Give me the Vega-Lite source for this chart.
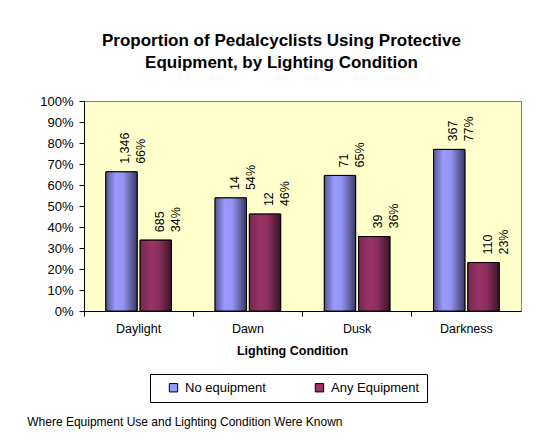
{
  "$schema": "https://vega.github.io/schema/vega-lite/v6.json",
  "background": "white",
  "padding": {"left": 27, "top": 31, "right": 5, "bottom": 5},
  "title": {
    "text": "Where Equipment Use and Lighting Condition Were Known",
    "orient": "bottom",
    "anchor": "start",
    "fontSize": 12,
    "fontWeight": "normal",
    "font": "Liberation Sans",
    "color": "#000000",
    "offset": 14,
    "dx": -12
  },
  "vconcat": [
    {
      "width": 437,
      "height": 210,
      "title": {
        "text": ["Proportion of Pedalcyclists Using Protective", "Equipment, by Lighting Condition"],
        "fontSize": 17,
        "fontWeight": "bold",
        "font": "Liberation Sans",
        "color": "#000000",
        "lineHeight": 22,
        "offset": 23,
        "dx": -21,
        "anchor": "middle"
      },
      "data": {
        "values": [
          {"condition": "Daylight", "series": "No equipment", "share": 0.6627, "label": "1,346\n66%"},
          {"condition": "Daylight", "series": "Any Equipment", "share": 0.3373, "label": "685\n34%"},
          {"condition": "Dawn", "series": "No equipment", "share": 0.5385, "label": "14\n54%"},
          {"condition": "Dawn", "series": "Any Equipment", "share": 0.4615, "label": "12\n46%"},
          {"condition": "Dusk", "series": "No equipment", "share": 0.6455, "label": "71\n65%"},
          {"condition": "Dusk", "series": "Any Equipment", "share": 0.3545, "label": "39\n36%"},
          {"condition": "Darkness", "series": "No equipment", "share": 0.7694, "label": "367\n77%"},
          {"condition": "Darkness", "series": "Any Equipment", "share": 0.2306, "label": "110\n23%"}
        ]
      },
      "encoding": {
        "x": {
          "field": "condition",
          "type": "nominal",
          "sort": ["Daylight", "Dawn", "Dusk", "Darkness"],
          "scale": {"paddingInner": 0.4, "paddingOuter": 0.2},
          "axis": {
            "title": "Lighting Condition",
            "titleFontSize": 12.5,
            "titleFontWeight": "bold",
            "titlePadding": 10,
            "titleX": 208,
            "labelAngle": 0,
            "labelFontSize": 12.5,
            "labelPadding": 6,
            "bandPosition": -0.3333,
            "tickSize": 5,
            "tickColor": "#000000",
            "domainColor": "#000000",
            "labelColor": "#000000",
            "titleColor": "#000000"
          }
        },
        "xOffset": {
          "field": "series",
          "type": "nominal",
          "sort": ["No equipment", "Any Equipment"],
          "scale": {"paddingInner": 0.088, "paddingOuter": 0}
        },
        "y": {
          "field": "share",
          "type": "quantitative",
          "scale": {"domain": [0, 1], "nice": false},
          "axis": {
            "title": null,
            "format": ".0%",
            "values": [0, 0.1, 0.2, 0.3, 0.4, 0.5, 0.6, 0.7, 0.8, 0.9, 1],
            "labelFontSize": 13,
            "labelPadding": 6,
            "tickSize": 5,
            "grid": false,
            "tickColor": "#000000",
            "domainColor": "#000000",
            "labelColor": "#000000"
          }
        }
      },
      "layer": [
        {
          "mark": {"type": "bar", "stroke": "#000000", "strokeWidth": 1},
          "encoding": {
            "color": {
              "field": "series",
              "type": "nominal",
              "sort": ["No equipment", "Any Equipment"],
              "scale": {"domain": ["No equipment", "Any Equipment"], "range": ["#9999FF", "#993366"]},
              "legend": {
                "title": null,
                "orient": "none",
                "legendX": 66,
                "legendY": 273,
                "direction": "horizontal",
                "columns": 2,
                "strokeColor": "#000000",
                "fillColor": "#FFFFFF",
                "padding": 7,
                "symbolOffset": 10,
                "symbolType": "square",
                "symbolSize": 70,
                "symbolStrokeColor": "#000000",
                "symbolStrokeWidth": 1,
                "labelFontSize": 13,
                "labelOffset": 5,
                "columnPadding": 37,
                "labelColor": "#000000"
              }
            }
          }
        },
        {
          "transform": [{"filter": "datum.series === 'No equipment'"}],
          "mark": {
            "type": "bar",
            "stroke": "#000000",
            "strokeWidth": 1,
            "fill": {
              "gradient": "linear", "x1": 0, "x2": 1, "y1": 0, "y2": 0,
              "stops": [
                {"offset": 0, "color": "#55558f"},
                {"offset": 0.3, "color": "#9999FF"},
                {"offset": 0.55, "color": "#9494f5"},
                {"offset": 1, "color": "#3a3a66"}
              ]
            }
          }
        },
        {
          "transform": [{"filter": "datum.series === 'Any Equipment'"}],
          "mark": {
            "type": "bar",
            "stroke": "#000000",
            "strokeWidth": 1,
            "fill": {
              "gradient": "linear", "x1": 0, "x2": 1, "y1": 0, "y2": 0,
              "stops": [
                {"offset": 0, "color": "#762850"},
                {"offset": 0.35, "color": "#993366"},
                {"offset": 0.6, "color": "#8c2e5d"},
                {"offset": 1, "color": "#3a1427"}
              ]
            }
          }
        },
        {
          "mark": {
            "type": "text",
            "angle": 270,
            "align": "left",
            "baseline": "middle",
            "dx": 8,
            "dy": 4,
            "lineBreak": "\n",
            "lineHeight": 16,
            "fontSize": 12.5,
            "color": "#000000"
          },
          "encoding": {"text": {"field": "label", "type": "nominal"}}
        }
      ]
    }
  ],
  "config": {
    "font": "Liberation Sans",
    "view": {"fill": "#FFFFCC", "stroke": "#808080", "strokeWidth": 1},
    "concat": {"spacing": 0}
  }
}
